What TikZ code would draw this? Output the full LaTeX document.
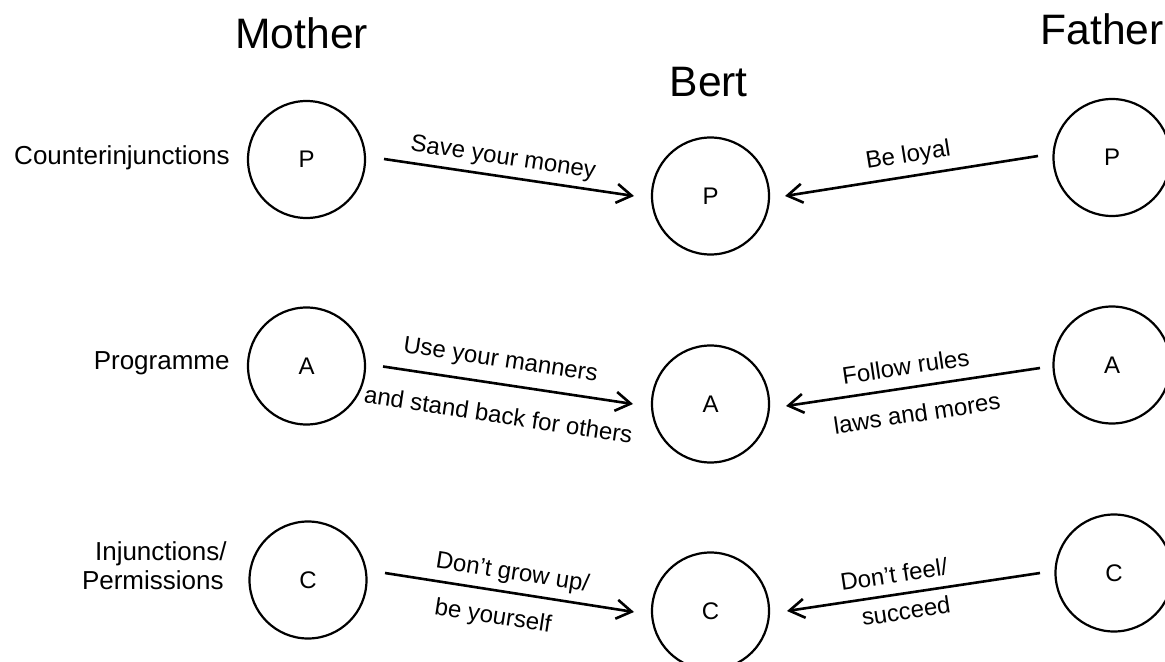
\documentclass[tikz,border=0pt]{standalone}
\usepackage{fontspec}
\setmainfont{Liberation Sans}
\usetikzlibrary{arrows.meta,calc}
\begin{document}
\begin{tikzpicture}[x=0.5pt,y=-0.5pt,
  ego/.style={circle,draw,line width=1.1pt,minimum size=58.5pt,inner sep=0pt,
    font=\fontsize{12}{14}\selectfont},
  title/.style={font=\fontsize{21.3}{24}\selectfont,anchor=base,inner sep=0pt},
  side/.style={font=\fontsize{13}{15}\selectfont,anchor=base east,inner sep=0pt},
  msg/.style={line width=1.3pt,-{Straight Barb[length=7.5pt,width=9.5pt]}},
  lbl/.style={font=\fontsize{12}{14}\selectfont,sloped,anchor=base,inner sep=0pt},
  msgabove/.style={lbl,yshift=#1},
  msgbelow/.style={lbl,yshift=-#1},
]
\useasboundingbox (0,0) rectangle (1165,662);

% ego states of mother, Bert and father
\node[ego] (mP) at (306.5,159.5) {P};
\node[ego] (mA) at (306.5,366)   {A};
\node[ego] (mC) at (308,580)     {C};
\node[ego] (bP) at (710.5,196)   {P};
\node[ego] (bA) at (710.5,404)   {A};
\node[ego] (bC) at (710.5,611)   {C};
\node[ego] (fP) at (1112,157.5)  {P};
\node[ego] (fA) at (1112,365)    {A};
\node[ego] (fC) at (1114,573)    {C};

% headings
\node[title] (mother) at (301.7,49) {Mother};
\node[title] (father) at (1102,45)  {Father};
\node[title] (bert)   at (708.7,97) {Bert};

% row labels
\node[side] (lP)  at (230,164.5) {Counterinjunctions};
\node[side] (lA)  at (230,369)   {Programme};
\node[side] (lC1) at (227,560)   {Injunctions/};
\node[side] (lC2) at (224,589)   {Permissions};

% ends of the message arrows
\coordinate (mP-o) at ($(mP)+(77.5,-0.5)$);
\coordinate (bP-l) at ($(bP)+(-76.5,0)$);
\coordinate (bP-r) at ($(bP)+(74.5,0)$);
\coordinate (fP-o) at ($(fP)+(-74,-1.5)$);
\coordinate (mA-o) at ($(mA)+(76.5,0.5)$);
\coordinate (bA-l) at ($(bA)+(-77.5,0)$);
\coordinate (bA-r) at ($(bA)+(75.5,2)$);
\coordinate (fA-o) at ($(fA)+(-72,3)$);
\coordinate (mC-o) at ($(mC)+(77,-7)$);
\coordinate (bC-l) at ($(bC)+(-76.5,1)$);
\coordinate (bC-r) at ($(bC)+(76.5,0)$);
\coordinate (fC-o) at ($(fC)+(-74,0)$);

% messages
\draw[msg] (mP-o) -- node[pos=0.466,msgabove=6pt] (tMP) {Save your money} (bP-l);
\draw[msg] (fP-o) -- node[pos=0.5,msgabove=7pt] (tFP) {Be loyal} (bP-r);
\draw[msg] (mA-o) -- node[pos=0.456,msgabove=8.5pt] (tMA1) {Use your manners}
                     node[pos=0.48,msgbelow=19.5pt] (tMA2) {and stand back for others} (bA-l);
\draw[msg] (fA-o) -- node[pos=0.516,msgabove=6.5pt] (tFA1) {Follow rules}
                     node[pos=0.5,msgbelow=17.5pt] (tFA2) {laws and mores} (bA-r);
\draw[msg] (mC-o) -- node[pos=0.5,msgabove=6.5pt] (tMC1) {Don’t grow up/}
                     node[pos=0.45,msgbelow=16.5pt] (tMC2) {be yourself} (bC-l);
\draw[msg] (fC-o) -- node[pos=0.565,msgabove=6pt] (tFC1) {Don’t feel/}
                     node[pos=0.54,msgbelow=13pt] (tFC2) {succeed} (bC-r);
\end{tikzpicture}
\end{document}
